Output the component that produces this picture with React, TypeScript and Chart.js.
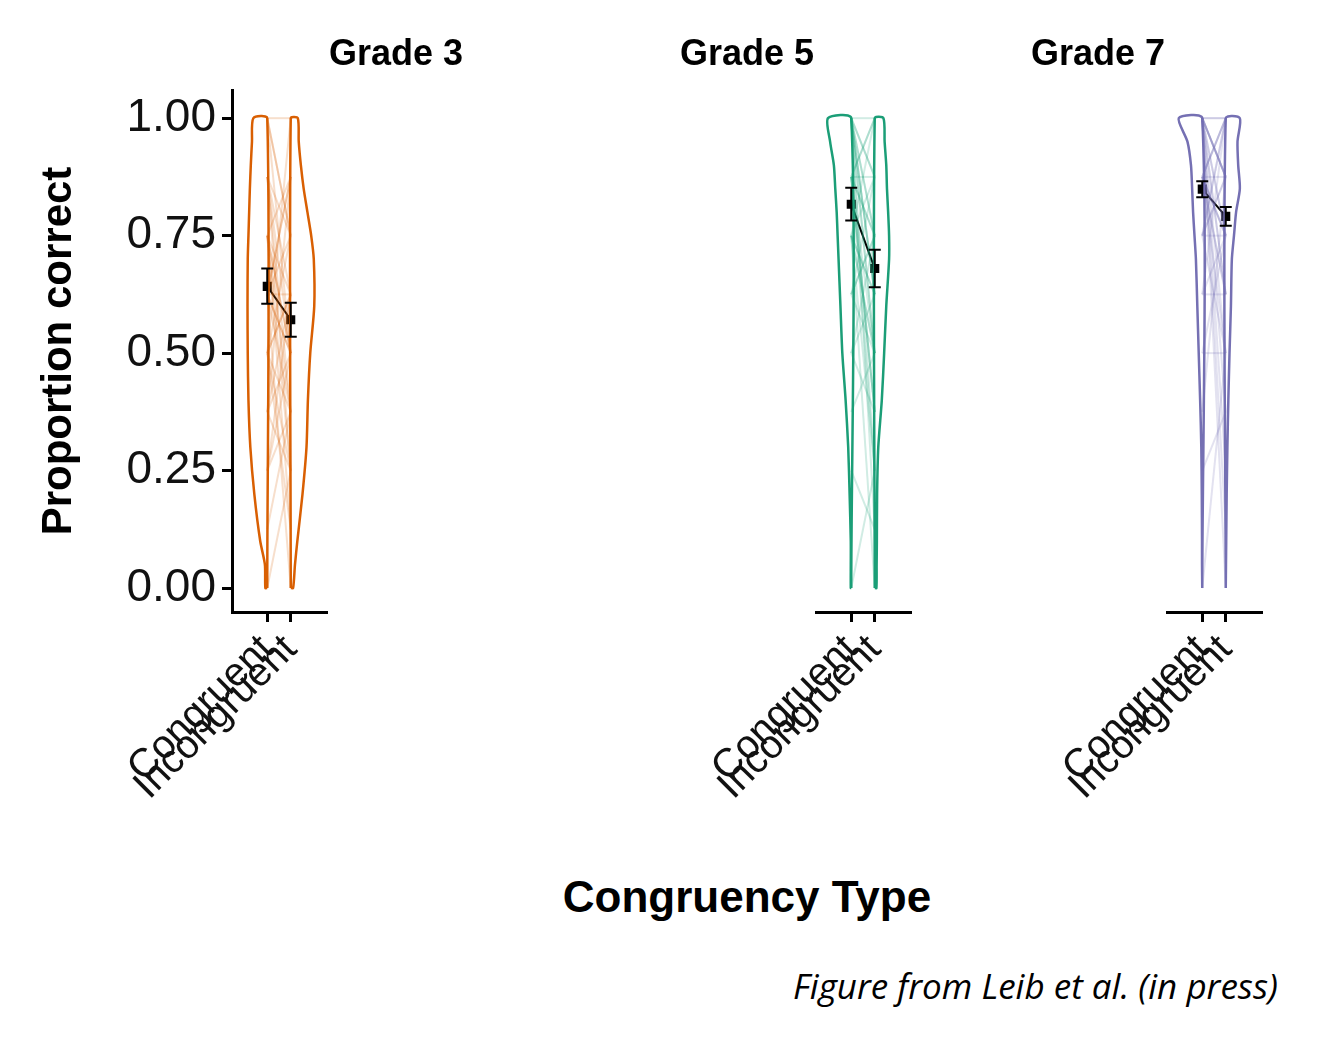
import { useEffect, useRef } from "react";
import { Chart, registerables } from "chart.js";

Chart.register(...registerables);

const categories = ["Congruent", "Incongruent"];
const yTicks = [0, 0.25, 0.5, 0.75, 1];

// violin outline: half-widths (x units) at each y level
const violinY = [0, 0.05, 0.1, 0.2, 0.3, 0.4, 0.5, 0.6, 0.7, 0.75, 0.8, 0.85, 0.9, 0.95, 1];
const g3CongWidth = [0.08, 0.1, 0.3, 0.55, 0.72, 0.8, 0.83, 0.84, 0.83, 0.8, 0.77, 0.74, 0.7, 0.65, 0.59];
const g3IncongWidth = [0.1, 0.18, 0.28, 0.5, 0.67, 0.73, 0.83, 1.0, 0.98, 0.87, 0.71, 0.55, 0.43, 0.34, 0.3];
const g5CongWidth = [0.02, 0.02, 0.02, 0.07, 0.13, 0.24, 0.38, 0.46, 0.54, 0.58, 0.62, 0.68, 0.74, 0.9, 0.99];
const g5IncongWidth = [0.07, 0.08, 0.09, 0.1, 0.15, 0.3, 0.4, 0.49, 0.61, 0.61, 0.57, 0.52, 0.49, 0.42, 0.37];
const g7CongWidth = [0, 0.01, 0.01, 0.02, 0.04, 0.09, 0.15, 0.21, 0.27, 0.33, 0.39, 0.43, 0.48, 0.63, 1.0];
const g7IncongWidth = [0, 0.01, 0.02, 0.04, 0.07, 0.11, 0.16, 0.22, 0.26, 0.35, 0.44, 0.6, 0.53, 0.5, 0.6];

// individual children: congruent vs incongruent proportion correct
const g3Cong = [1, 1, 0.875, 0.875, 0.75, 0.75, 0.75, 0.625, 0.625, 0.625, 0.625, 0.5, 0.5, 0.5, 0.5, 0.375, 0.375, 0.25, 0.25, 0.875, 1, 0.75, 0.625, 0.5, 0.375, 0.875, 0.75, 0.625, 0.5, 0.125, 0.75, 0.625, 1, 0.875, 0.5, 0.25, 0.625, 0.75, 0.375, 0];
const g3Incong = [0.5, 1, 0.625, 0.375, 0.875, 0.5, 0.25, 0.75, 0.5, 0.375, 0.875, 0.625, 0.25, 0.75, 0.375, 0.5, 0.875, 0.625, 0.375, 0.25, 0.75, 0.5, 0.625, 1, 0.25, 0.75, 0.625, 0.5, 0.125, 0.375, 0.125, 0.875, 0.75, 0.5, 0.625, 0.5, 0, 0.375, 0.625, 0.25];
const g5Cong = [1, 1, 1, 1, 1, 1, 0.875, 0.875, 0.875, 0.875, 0.75, 0.75, 0.75, 0.75, 0.625, 0.625, 0.5, 0.5, 0.375, 0.25, 1, 1, 0.875, 0.875, 0.75, 0.625, 1, 0.875, 0.75, 0.5, 1, 0.875, 0.75, 0, 1, 0.875, 0.625, 0.75, 1, 0.875];
const g5Incong = [0.75, 0.5, 0.25, 0.875, 1, 0.625, 0.75, 0.5, 0.375, 1, 0.875, 0.625, 0.5, 0.25, 0.75, 0.5, 0.625, 0.375, 0.5, 0.125, 0.875, 0.625, 0.75, 0.375, 0.625, 0.875, 0.5, 1, 0.5, 0.75, 0.125, 0.25, 0, 0.25, 0.75, 0.875, 0.75, 1, 0.625, 0.375];
const g7Cong = [1, 1, 1, 1, 1, 1, 1, 1, 0.875, 0.875, 0.875, 0.875, 0.875, 0.75, 0.75, 0.75, 0.625, 0.625, 0.5, 0.25, 1, 1, 1, 0.875, 0.875, 0.75, 0.75, 1, 1, 0.875, 0.5, 0.375, 1, 0.875, 0.75, 1, 0, 1, 0.875, 0.625];
const g7Incong = [1, 0.875, 0.75, 0.625, 0.5, 0.25, 1, 0.875, 1, 0.75, 0.875, 0.625, 0.5, 1, 0.75, 0.875, 0.625, 0.75, 0.5, 0.375, 0.125, 0.875, 0.75, 1, 0.625, 0.875, 0.5, 0, 0.875, 1, 0.75, 0.875, 0.375, 0.75, 1, 0.625, 0.5, 0.875, 0.75, 1];

// means and error bar limits [congruent, incongruent]
const g3Mean = [0.642, 0.571];
const g3Lo = [0.605, 0.535];
const g3Hi = [0.68, 0.607];
const g5Mean = [0.817, 0.68];
const g5Lo = [0.782, 0.64];
const g5Hi = [0.852, 0.72];
const g7Mean = [0.849, 0.791];
const g7Lo = [0.832, 0.771];
const g7Hi = [0.866, 0.811];

const FONT = "'Liberation Sans', Arial, sans-serif";

interface PanelProps {
  left: number;
  padLeft: number;
  showY: boolean;
  rgb: string;
  congWidth: number[];
  incongWidth: number[];
  cong: number[];
  incong: number[];
  mean: number[];
  lo: number[];
  hi: number[];
}

const Panel = (p: PanelProps) => {
  const canvasRef = useRef<HTMLCanvasElement | null>(null);
  const width = p.padLeft + 326 + 12;

  useEffect(() => {
    if (!canvasRef.current) return;
    const violin = (cx: number, dir: number, w: number[]) => {
      const pts = [{ x: cx, y: 0 }];
      violinY.forEach((y, i) => pts.push({ x: cx + dir * w[i], y }));
      pts.push({ x: cx, y: 1 });
      pts.push({ x: cx, y: 0 });
      return pts;
    };
    const datasets: any[] = [];
    p.cong.forEach((c, i) => {
      datasets.push({
        data: [{ x: 0, y: c }, { x: 1, y: p.incong[i] }],
        borderColor: `rgba(${p.rgb},0.2)`,
        borderWidth: 2,
        pointRadius: 0,
      });
    });
    datasets.push({ data: violin(0, -1, p.congWidth), borderColor: `rgb(${p.rgb})`, borderWidth: 2.5, pointRadius: 0, tension: 0.25 });
    datasets.push({ data: violin(1, 1, p.incongWidth), borderColor: `rgb(${p.rgb})`, borderWidth: 2.5, pointRadius: 0, tension: 0.25 });
    datasets.push({
      data: p.mean.map((m, i) => ({ x: i, y: m })),
      borderColor: "#000",
      backgroundColor: "#000",
      borderWidth: 2,
      pointStyle: "rect",
      pointRadius: 5,
    });

    const errorBars = {
      id: "errorBars",
      afterDatasetsDraw(chart: any) {
        const ctx = chart.ctx;
        const xs = chart.scales.x;
        const ys = chart.scales.y;
        ctx.save();
        ctx.strokeStyle = "#000";
        ctx.lineWidth = 2;
        p.mean.forEach((_, i) => {
          const x = xs.getPixelForValue(i);
          const y1 = ys.getPixelForValue(p.lo[i]);
          const y2 = ys.getPixelForValue(p.hi[i]);
          ctx.beginPath();
          ctx.moveTo(x, y1);
          ctx.lineTo(x, y2);
          ctx.moveTo(x - 6, y1);
          ctx.lineTo(x + 6, y1);
          ctx.moveTo(x - 6, y2);
          ctx.lineTo(x + 6, y2);
          ctx.stroke();
        });
        ctx.restore();
      },
    };

    const chart = new Chart(canvasRef.current, {
      type: "line",
      data: { datasets },
      plugins: [errorBars],
      options: {
        animation: false,
        responsive: false,
        devicePixelRatio: 1,
        layout: { padding: { left: p.padLeft, right: 12, top: 90, bottom: 0 } },
        plugins: { legend: { display: false }, tooltip: { enabled: false } },
        scales: {
          x: {
            type: "linear",
            min: -1.5,
            max: 2.5,
            afterBuildTicks: (s: any) => {
              s.ticks = [{ value: 0 }, { value: 1 }];
            },
            afterFit: (s: any) => {
              s.height = 248;
              s.paddingLeft = 0;
              s.paddingRight = 0;
            },
            ticks: {
              callback: (v: any) => categories[v as number] ?? "",
              minRotation: 45,
              maxRotation: 45,
              autoSkip: false,
              color: "#111",
              font: { family: FONT, size: 40 },
              padding: 4,
            },
            grid: { drawOnChartArea: false, drawTicks: true, tickLength: 10, color: "#000", lineWidth: 3 },
            border: { color: "#000", width: 3 },
          },
          y: {
            display: p.showY,
            min: -0.051,
            max: 1.06,
            afterBuildTicks: (s: any) => {
              s.ticks = yTicks.map((v) => ({ value: v }));
            },
            afterFit: (s: any) => {
              s.width = 232;
            },
            ticks: {
              callback: (v: any) => Number(v).toFixed(2),
              color: "#111",
              font: { family: FONT, size: 46 },
              padding: 6,
            },
            grid: { drawOnChartArea: false, drawTicks: true, tickLength: 10, color: "#000", lineWidth: 3 },
            border: { color: "#000", width: 3 },
            title: {
              display: true,
              text: "Proportion correct",
              color: "#000",
              font: { family: FONT, size: 42, weight: "bold" },
              padding: { top: 34, bottom: 0 },
            },
          },
        },
      },
    });
    return () => chart.destroy();
  }, []);

  return (
    <canvas
      ref={canvasRef}
      width={width}
      height={860}
      style={{ position: "absolute", left: p.left, top: 0, width, height: 860 }}
    />
  );
};

const titleStyle = (cx: number): React.CSSProperties => ({
  position: "absolute",
  left: cx - 150,
  width: 300,
  top: 32,
  textAlign: "center",
  fontFamily: FONT,
  fontWeight: "bold",
  fontSize: 36,
  color: "#000",
});

export default function App() {
  return (
    <div style={{ position: "fixed", left: 0, top: 0, width: 1320, height: 1045, background: "#fff" }}>
      <Panel left={0} padLeft={0} showY rgb="217,95,2" congWidth={g3CongWidth} incongWidth={g3IncongWidth} cong={g3Cong} incong={g3Incong} mean={g3Mean} lo={g3Lo} hi={g3Hi} />
      <Panel left={384} padLeft={200} showY={false} rgb="27,158,119" congWidth={g5CongWidth} incongWidth={g5IncongWidth} cong={g5Cong} incong={g5Incong} mean={g5Mean} lo={g5Lo} hi={g5Hi} />
      <Panel left={735} padLeft={200} showY={false} rgb="117,112,179" congWidth={g7CongWidth} incongWidth={g7IncongWidth} cong={g7Cong} incong={g7Incong} mean={g7Mean} lo={g7Lo} hi={g7Hi} />
      <div style={titleStyle(396)}>Grade 3</div>
      <div style={titleStyle(747)}>Grade 5</div>
      <div style={titleStyle(1098)}>Grade 7</div>
      <div style={{ position: "absolute", left: 447, width: 600, top: 872, textAlign: "center", fontFamily: FONT, fontWeight: "bold", fontSize: 44, color: "#000" }}>
        Congruency Type
      </div>
      <div style={{ position: "absolute", right: 42, top: 962, fontFamily: "'Open Sans', sans-serif", fontStyle: "italic", fontSize: 35, color: "#000" }}>
        Figure from Leib et al. (in press)
      </div>
    </div>
  );
}
